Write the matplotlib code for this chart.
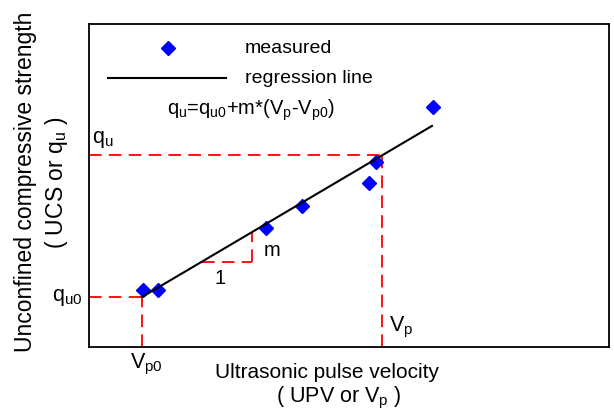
import numpy as np
import matplotlib
matplotlib.use('Agg')
import matplotlib.pyplot as plt

plt.rcParams['font.family'] = ['Liberation Sans', 'DejaVu Sans']
plt.rcParams['mathtext.fontset'] = 'custom'
plt.rcParams['mathtext.rm'] = 'Liberation Sans'
plt.rcParams['mathtext.it'] = 'Liberation Sans:italic'
plt.rcParams['mathtext.default'] = 'rm'

# ---- data (arbitrary units, schematic) ----
vp_measured = [54, 69, 177, 213, 280, 287, 344]
qu_measured = [57, 57, 119, 141, 164, 185, 240]

vp0 = 53        # intercept velocity
qu0 = 50        # intercept strength
slope_m = 0.59  # regression slope
vp_end = 343    # end of drawn regression line
vp_sel = 293    # example V_p
tri_v = [113, 163]  # slope triangle run

xlim = (0, 520)
ylim = (0, 323)


def reg(v):
    return qu0 + slope_m * (np.asarray(v) - vp0)


fig = plt.figure(figsize=(6.14, 4.17), dpi=100)
ax = fig.add_axes([89 / 614, 70 / 417, 520 / 614, 323 / 417])

red = '#ff0000'
dash_kw = dict(color=red, linewidth=1.3, dashes=(7, 4))

# measured points
ax.plot(vp_measured, qu_measured, linestyle='none', marker='D',
        color='#0000ff', markersize=7, zorder=3)

# regression line (drawn over the points, as in the original)
vline = np.array([vp0, vp_end])
ax.plot(vline, reg(vline), color='black', linewidth=1.5, zorder=4)

# guide lines for q_u0 / V_p0
ax.plot([xlim[0], vp0], [qu0, qu0], **dash_kw)
ax.plot([vp0, vp0], [ylim[0], qu0], **dash_kw)

# guide lines for q_u / V_p
qu_sel = float(reg(vp_sel))
ax.plot([xlim[0], vp_sel], [qu_sel, qu_sel], **dash_kw)
ax.plot([vp_sel, vp_sel], [ylim[0], qu_sel], **dash_kw)

# slope triangle
y_lo = float(reg(tri_v[0]))
y_hi = float(reg(tri_v[1]))
ax.plot([tri_v[0], tri_v[1]], [y_lo, y_lo], **dash_kw)
ax.plot([tri_v[1], tri_v[1]], [y_lo, y_hi], **dash_kw)
ax.text(131, 69, '1', fontsize=14.5, ha='center', va='center')
ax.text(183, 97, 'm', fontsize=14.5, ha='center', va='center')

# hand-drawn legend
ax.plot([79], [299], linestyle='none', marker='D', color='#0000ff', markersize=7)
ax.plot([19, 137], [269, 269], color='black', linewidth=1.5)
ax.text(156, 299, 'measured', fontsize=14, ha='left', va='center')
ax.text(156, 269, 'regression line', fontsize=14, ha='left', va='center')
ax.text(162, 237, r'$q_u$=$q_{u0}$+m*($V_p$-$V_{p0}$)', fontsize=14.5,
        ha='center', va='center')

# value labels
ax.text(3, 207, r'$q_u$', fontsize=15.5, ha='left', va='center')
ax.text(-7, 50, r'$q_{u0}$', fontsize=15.5, ha='right', va='center')
ax.text(300, 20, r'$V_p$', fontsize=15.5, ha='left', va='center')
ax.text(57, -17, r'$V_{p0}$', fontsize=15.5, ha='center', va='center')

ax.set_xlim(*xlim)
ax.set_ylim(*ylim)
ax.set_xticks([])
ax.set_yticks([])
for sp in ax.spines.values():
    sp.set_linewidth(1.3)

# axis titles
fig.text(327 / 614, 1 - 373 / 417, 'Ultrasonic pulse velocity',
         fontsize=15, ha='center', va='center')
fig.text(339 / 614, 1 - 398 / 417, r'( UPV or $V_p$ )',
         fontsize=15.5, ha='center', va='center')
fig.text(26 / 614, 1 - 182 / 417, 'Unconfined compressive strength',
         fontsize=16.5, ha='center', va='center', rotation=90)
fig.text(56 / 614, 1 - 183 / 417, r'( UCS or $q_u$ )',
         fontsize=16.5, ha='center', va='center', rotation=90)

fig.savefig('out.png', dpi=100)
